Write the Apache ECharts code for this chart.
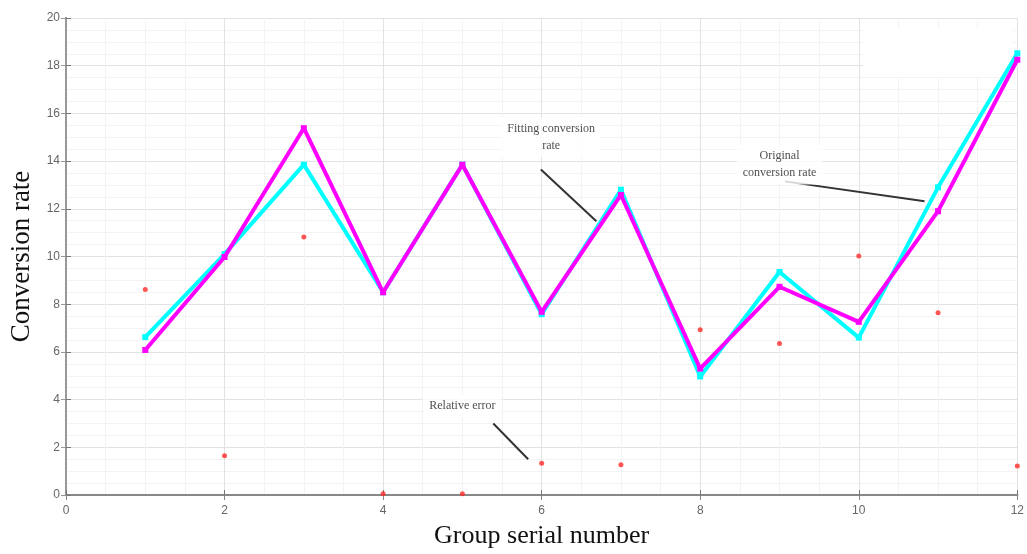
<!DOCTYPE html>
<html>
<head>
<meta charset="utf-8">
<script src="https://cdn.jsdelivr.net/npm/echarts@6/dist/echarts.min.js"></script>
<style>
  html, body { margin: 0; padding: 0; background: #fff; }
  #chart { width: 1027px; height: 554px; }
</style>
</head>
<body>
<div id="chart"></div>
<script>
// group serial numbers
const groups = [1, 2, 3, 4, 5, 6, 7, 8, 9, 10, 11, 12];
// original conversion rate (cyan)
const original = [6.62, 10.1, 13.85, 8.5, 13.85, 7.58, 12.8, 4.97, 9.35, 6.6, 12.9, 18.52];
// fitting conversion rate (magenta)
const fitted = [6.08, 9.98, 15.38, 8.5, 13.85, 7.68, 12.58, 5.3, 8.73, 7.26, 11.9, 18.25];
// relative error (red dots)
const relError = [8.62, 1.65, 10.82, 0.05, 0.05, 1.33, 1.27, 6.93, 6.35, 10.02, 7.64, 1.22];

// annotation texts and where they sit (data coords)
const noteTexts = ["Fitting conversion\nrate", "Original\nconversion rate", "Relative error"];
const noteX = [6.12, 9.0, 5.0];
const noteY = [14.99, 13.86, 3.72];

const serif = "'Liberation Serif', 'DejaVu Serif', serif";
const sans = "'Liberation Sans', Arial, sans-serif";

const chart = echarts.init(document.getElementById("chart"));

const pair = (xs, ys) => xs.map((x, i) => [x, ys[i]]);

const leader = (x1, y1, x2, y2) => [
  { coord: [x1, y1], symbol: "none" },
  { coord: [x2, y2], symbol: "none" },
];

const option = {
  animation: false,
  backgroundColor: "#fff",
  grid: { left: 66, right: 6, top: 18, bottom: 57 },
  xAxis: [
    {
      type: "value",
      min: 0,
      max: 12,
      interval: 2,
      name: "Group serial number",
      nameLocation: "middle",
      nameGap: 28,
      nameTextStyle: { fontFamily: serif, fontSize: 26, color: "#111" },
      axisLine: { show: true, lineStyle: { color: "#777", width: 2 } },
      axisTick: { show: true, inside: true, length: 5, lineStyle: { color: "#777" } },
      axisLabel: { color: "#666", fontFamily: sans, fontSize: 12, margin: 10 },
      splitLine: { show: true, lineStyle: { color: "#e2e2e2", width: 1 } },
      minorTick: { show: false, splitNumber: 4 },
      minorSplitLine: { show: true, lineStyle: { color: "#f3f3f3", width: 1 } },
    },
    {
      type: "value",
      position: "top",
      min: 0,
      max: 12,
      interval: 2,
      axisLine: { show: true, lineStyle: { color: "#888", width: 2 } },
      axisTick: { show: true, inside: true, length: 5, lineStyle: { color: "#888" } },
      axisLabel: { show: false },
      splitLine: { show: false },
    },
  ],
  yAxis: [
    {
      type: "value",
      min: 0,
      max: 20,
      interval: 2,
      name: "Conversion rate",
      nameLocation: "middle",
      nameGap: 28,
      nameTextStyle: { fontFamily: serif, fontSize: 27, color: "#111" },
      axisLine: { show: true, lineStyle: { color: "#777", width: 2 } },
      axisTick: { show: true, inside: true, length: 5, lineStyle: { color: "#777" } },
      axisLabel: { color: "#666", fontFamily: sans, fontSize: 12, margin: 6 },
      splitLine: { show: true, lineStyle: { color: "#e2e2e2", width: 1 } },
      minorTick: { show: false, splitNumber: 4 },
      minorSplitLine: { show: true, lineStyle: { color: "#f3f3f3", width: 1 } },
    },
    {
      type: "value",
      position: "right",
      min: 0,
      max: 20,
      interval: 2,
      axisLine: { show: true, lineStyle: { color: "#999", width: 2 } },
      axisTick: { show: true, inside: true, length: 5, lineStyle: { color: "#999" } },
      axisLabel: { show: false },
      splitLine: { show: false },
    },
  ],
  graphic: [
    {
      // white patch over the upper-right corner of the plot
      type: "rect",
      left: 863,
      top: 28,
      shape: { width: 150, height: 49 },
      style: { fill: "#fff" },
      z: 1,
    },
  ],
  series: [
    {
      name: "Original conversion rate",
      type: "line",
      data: pair(groups, original),
      symbol: "rect",
      symbolSize: 6,
      itemStyle: { color: "#00ffff" },
      lineStyle: { color: "#00ffff", width: 4 },
      z: 3,
    },
    {
      name: "Fitting conversion rate",
      type: "line",
      data: pair(groups, fitted),
      symbol: "rect",
      symbolSize: 6,
      itemStyle: { color: "#ff00ff" },
      lineStyle: { color: "#ff00ff", width: 4 },
      z: 4,
    },
    {
      name: "Relative error",
      type: "scatter",
      data: pair(groups, relError),
      symbol: "circle",
      symbolSize: 5,
      itemStyle: { color: "#ff2a2a" },
      z: 5,
      markLine: {
        silent: true,
        symbol: "none",
        lineStyle: { color: "#333", width: 2, type: "solid" },
        label: { show: false },
        data: [
          leader(5.99, 13.65, 6.69, 11.48),
          leader(9.07, 13.15, 10.83, 12.32),
          leader(5.39, 3.0, 5.83, 1.5),
        ],
      },
    },
    {
      name: "notes",
      type: "scatter",
      silent: true,
      data: noteTexts.map((t, i) => ({ value: [noteX[i], noteY[i]], name: t })),
      symbol: "circle",
      symbolSize: 1,
      itemStyle: { color: "rgba(255,255,255,0)" },
      z: 6,
      label: {
        show: true,
        position: "inside",
        formatter: (p) => p.name,
        fontFamily: serif,
        fontSize: 12,
        lineHeight: 17,
        color: "#222",
        backgroundColor: "#fff",
        padding: [3, 6],
      },
      labelLayout: { hideOverlap: false },
    },
  ],
};

chart.setOption(option);
</script>
</body>
</html>
